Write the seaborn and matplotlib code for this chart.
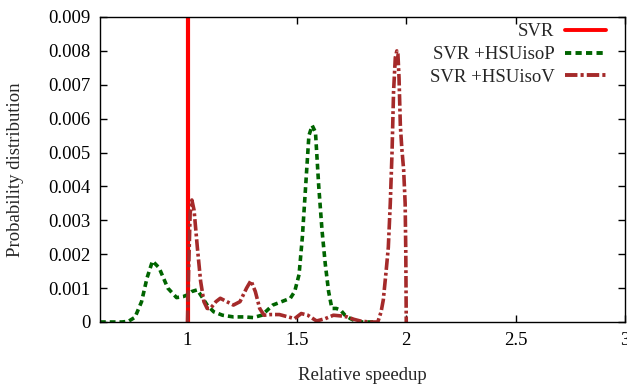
import numpy as np
import pandas as pd
import matplotlib
matplotlib.use("Agg")
import matplotlib.pyplot as plt
import seaborn as sns

# ---- data ----
svr_x = [1.0, 1.0]
svr_y = [0.0, 0.0095]

isoP_x = [0.60, 0.65, 0.70, 0.73, 0.76, 0.79, 0.815, 0.84, 0.87, 0.91, 0.95, 0.98, 1.00, 1.02,
          1.045, 1.07, 1.09, 1.12, 1.16, 1.21, 1.26, 1.30, 1.34, 1.39, 1.43, 1.47, 1.49, 1.51,
          1.525, 1.54, 1.555, 1.57, 1.585, 1.60, 1.615, 1.63, 1.645, 1.66, 1.68, 1.70, 1.72,
          1.745, 1.77, 1.80, 1.85]
isoP_y = [0.0, 0.0, 0.0, 0.00002, 0.00014, 0.0006, 0.0013, 0.0018, 0.0016, 0.0010, 0.00072,
          0.00075, 0.0008, 0.0009, 0.00095, 0.0007, 0.0005, 0.0003, 0.0002, 0.00015, 0.00015,
          0.00013, 0.0002, 0.0005, 0.0006, 0.0007, 0.0009, 0.0014, 0.0025, 0.0040, 0.0055,
          0.0058, 0.0056, 0.0040, 0.0027, 0.0017, 0.0009, 0.0004, 0.0004, 0.00035, 0.0002,
          0.0001, 0.00002, 0.0, 0.0]

isoV_x = [1.00, 1.005, 1.012, 1.02, 1.03, 1.045, 1.06, 1.075, 1.09, 1.105, 1.13, 1.15, 1.18,
          1.21, 1.24, 1.27, 1.29, 1.31, 1.33, 1.35, 1.38, 1.42, 1.46, 1.49, 1.52, 1.55, 1.59,
          1.63, 1.667, 1.70, 1.73, 1.76, 1.79, 1.83, 1.87, 1.885, 1.895, 1.908, 1.918, 1.927,
          1.935, 1.942, 1.95, 1.957, 1.962, 1.967, 1.973, 1.98, 1.988, 1.995, 1.998, 2.0]
isoV_y = [0.0, 0.0015, 0.0032, 0.0036, 0.0033, 0.0022, 0.0012, 0.0006, 0.0004, 0.0004, 0.0006,
          0.0007, 0.0006, 0.0005, 0.0006, 0.0010, 0.00122, 0.0009, 0.0004, 0.0002, 0.00022,
          0.00022, 0.00015, 0.0001, 0.00025, 0.0002, 0.00003, 0.0001, 0.0002, 0.00018, 0.00015,
          0.00008, 0.00003, 0.0, 0.0, 0.0003, 0.00065, 0.0015, 0.0022, 0.0035, 0.0050, 0.0068,
          0.0078, 0.0080, 0.0079, 0.0072, 0.0058, 0.0051, 0.0045, 0.0035, 0.0020, 0.0]

labels = ["SVR", "SVR +HSUisoP", "SVR +HSUisoV"]
x_ticks = [1, 1.5, 2, 2.5, 3]
x_tick_labels = ["1", "1.5", "2", "2.5", "3"]
y_ticks = [0, 0.001, 0.002, 0.003, 0.004, 0.005, 0.006, 0.007, 0.008, 0.009]
y_tick_labels = ["0", "0.001", "0.002", "0.003", "0.004", "0.005", "0.006", "0.007", "0.008", "0.009"]

sns.set_style("ticks")
plt.rcParams["font.family"] = ["Liberation Serif", "DejaVu Serif"]
plt.rcParams["font.size"] = 13

fig = plt.figure(figsize=(6.27, 3.85), dpi=100)
ax = fig.add_axes([100 / 627, 1 - 322 / 385, 525 / 627, 305 / 385])

df_svr = pd.DataFrame({"x": svr_x, "y": svr_y})
df_p = pd.DataFrame({"x": isoP_x, "y": isoP_y})
df_v = pd.DataFrame({"x": isoV_x, "y": isoV_y})

sns.lineplot(data=df_svr, x="x", y="y", ax=ax, color="#ff0000", lw=3.0, label=labels[0],
             sort=False, estimator=None)
sns.lineplot(data=df_p, x="x", y="y", ax=ax, color="#006400", lw=2.6, label=labels[1],
             sort=False, estimator=None, dashes=False)
sns.lineplot(data=df_v, x="x", y="y", ax=ax, color="#a52a2a", lw=2.6, label=labels[2],
             sort=False, estimator=None, dashes=False)

lines = ax.get_lines()
lines[1].set_dashes([1.6, 1.1])
lines[2].set_dashes([3.2, 0.8, 0.8, 0.8])

ax.set_xlim(0.6, 3.0)
ax.set_ylim(0, 0.009)
ax.set_xticks(x_ticks)
ax.set_xticklabels(x_tick_labels)
ax.set_yticks(y_ticks)
ax.set_yticklabels(y_tick_labels)
ax.tick_params(direction="in", top=True, right=True, length=5, width=1, labelsize=13.5, pad=7,
               colors="black")
for s in ax.spines.values():
    s.set_linewidth(1.0)
    s.set_color("black")

ax.set_xlabel("Relative speedup", fontsize=13.5, labelpad=13)
ax.set_ylabel("Probability distribution", fontsize=13.5, labelpad=17)

leg = ax.legend(loc="upper right", frameon=False, markerfirst=False, fontsize=13.5,
                handlelength=2.2, handletextpad=0.55, labelspacing=0.3,
                bbox_to_anchor=(0.985, 1.016), borderaxespad=0.2)
for lh in leg.get_lines():
    lh.set_linewidth(2.8)

fig.savefig("out.png", dpi=100)
